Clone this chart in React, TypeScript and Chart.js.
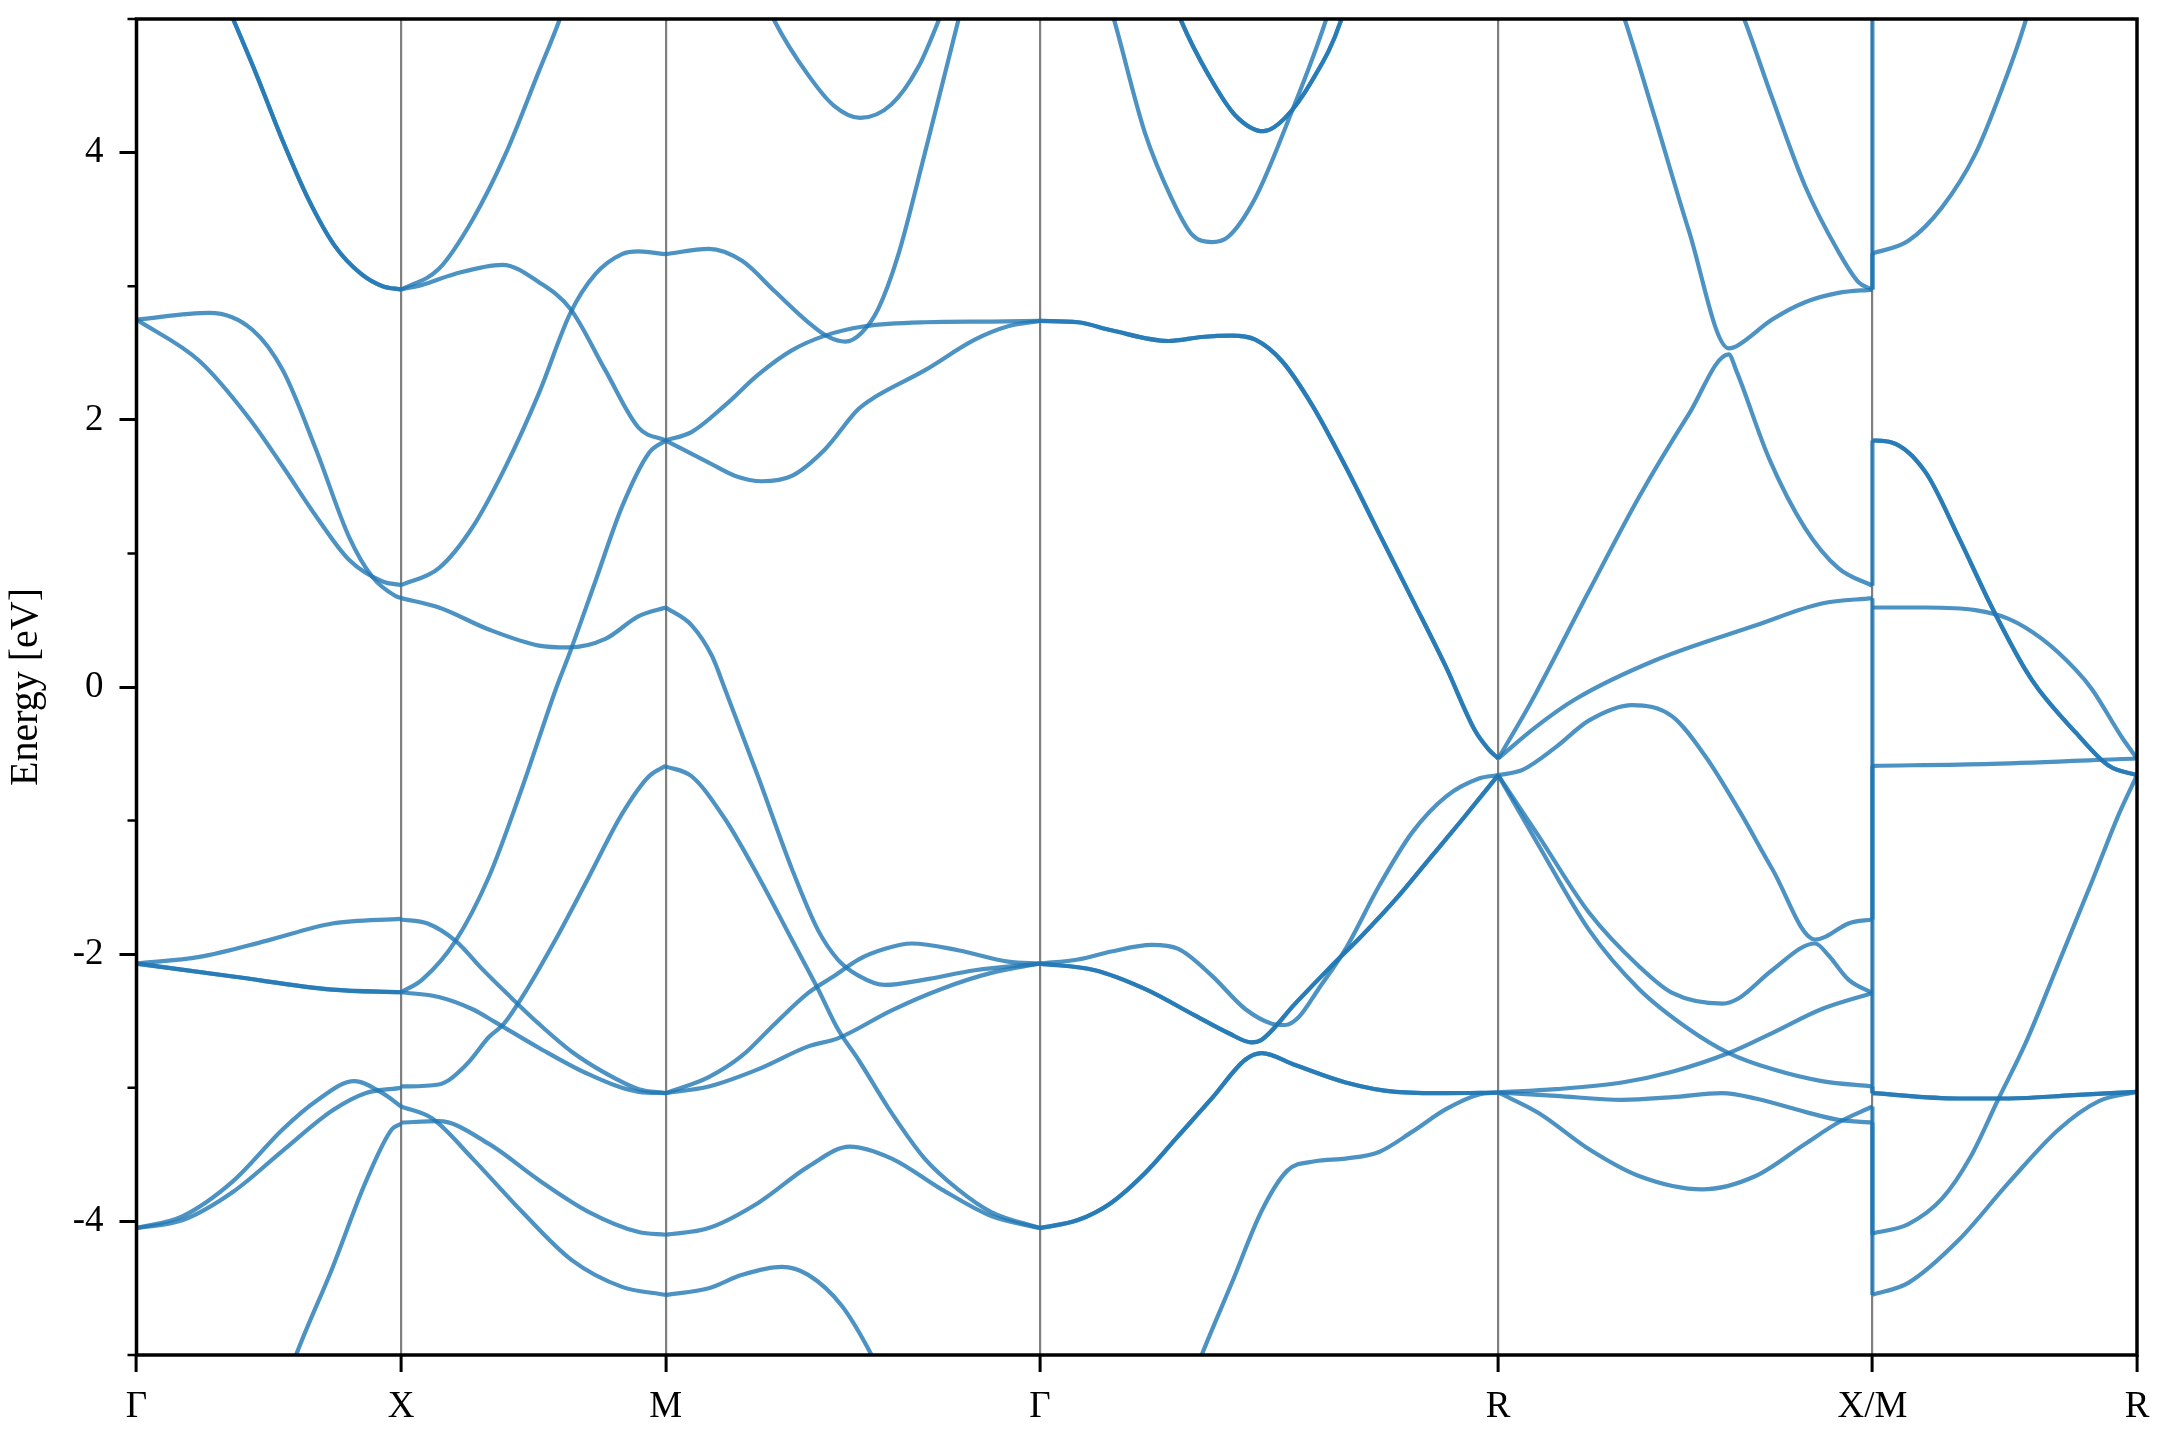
import React, { useEffect, useRef } from 'react';
import { Chart, registerables } from 'chart.js';

Chart.register(...registerables);

// High-symmetry path
const K_LABELS = ['Γ', 'X', 'M', 'Γ', 'R', 'X/M', 'R'];
const K_POS = [0, 0.5, 1.0, 1.7071, 2.5731, 3.2802, 3.7802];

// Energy axis
const Y_MAJOR = [-4, -2, 0, 2, 4];
const Y_MINOR = [-5, -3, -1, 1, 3, 5];
const E_MIN = -5;
const E_MAX = 5;
const Y_TITLE = 'Energy [eV]';

// Bands per segment: each curve is a list of [fraction along segment, energy (eV)]
const SEG_G_X: number[][][] = [
  [[0.30, 5.3], [0.365, 5.0], [0.45, 4.6], [0.55, 4.1], [0.65, 3.65], [0.75, 3.3], [0.85, 3.09], [0.93, 3.0], [1, 2.975]],
  [[0, 2.75], [0.275, 2.8], [0.44, 2.67], [0.553, 2.37], [0.678, 1.78], [0.804, 1.12], [0.893, 0.82], [0.98, 0.68], [1, 0.665]],
  [[0, 2.75], [0.238, 2.44], [0.426, 2.01], [0.553, 1.65], [0.678, 1.28], [0.804, 0.95], [0.93, 0.79], [1, 0.763]],
  [[0, -2.07], [0.238, -2.02], [0.49, -1.9], [0.74, -1.77], [1, -1.735]],
  [[0, -2.07], [0.364, -2.167], [0.74, -2.265], [1, -2.285]],
  [[0, -4.05], [0.175, -3.96], [0.364, -3.7], [0.553, -3.31], [0.678, -3.1], [0.823, -2.95], [0.93, -3.04], [1, -3.14]],
  [[0, -4.05], [0.175, -3.99], [0.364, -3.78], [0.553, -3.47], [0.74, -3.17], [0.865, -3.04], [1, -3.0]],
  [[0.55, -5.3], [0.603, -5.0], [0.74, -4.35], [0.865, -3.71], [0.965, -3.31], [1, -3.27]],
];
const DEG_G_X = [2, 1, 1, 1, 2, 1, 1, 1];

const SEG_X_M: number[][][] = [
  [[0, 2.975], [0.143, 3.13], [0.268, 3.49], [0.395, 3.99], [0.521, 4.61], [0.596, 4.98], [0.65, 5.3]],
  [[0, 2.975], [0.079, 3.01], [0.2, 3.09], [0.383, 3.16], [0.521, 3.03], [0.64, 2.83], [0.772, 2.37], [0.898, 1.94], [1, 1.845]],
  [[0, 0.763], [0.143, 0.89], [0.268, 1.19], [0.395, 1.65], [0.521, 2.2], [0.64, 2.8], [0.734, 3.09], [0.835, 3.24], [0.898, 3.26], [1, 3.24]],
  [[0, 0.665], [0.143, 0.595], [0.332, 0.43], [0.521, 0.31], [0.634, 0.296], [0.772, 0.36], [0.898, 0.53], [1, 0.595]],
  [[0, -2.285], [0.08, -2.19], [0.206, -1.9], [0.332, -1.42], [0.458, -0.75], [0.584, -0.02], [0.64, 0.27], [0.734, 0.79], [0.835, 1.35], [0.936, 1.75], [1, 1.845]],
  [[0, -1.74], [0.1, -1.77], [0.206, -1.9], [0.306, -2.11], [0.408, -2.31], [0.52, -2.52], [0.645, -2.73], [0.772, -2.89], [0.898, -3.01], [1, -3.04]],
  [[0, -2.285], [0.142, -2.32], [0.268, -2.41], [0.357, -2.51], [0.52, -2.7], [0.71, -2.9], [0.898, -3.03], [1, -3.04]],
  [[0, -2.99], [0.142, -2.975], [0.245, -2.83], [0.332, -2.62], [0.389, -2.52], [0.458, -2.32], [0.584, -1.89], [0.71, -1.42], [0.835, -0.95], [0.936, -0.67], [1, -0.59]],
  [[0, -3.14], [0.118, -3.23], [0.27, -3.53], [0.458, -3.93], [0.645, -4.29], [0.835, -4.49], [1, -4.55]],
  [[0, -3.26], [0.142, -3.25], [0.332, -3.42], [0.52, -3.69], [0.71, -3.93], [0.898, -4.08], [1, -4.1]],
];
const DEG_X_M = [1, 1, 1, 1, 1, 1, 1, 1, 1, 1];

const SEG_M_G: number[][][] = [
  [[0.25, 5.25], [0.292, 4.98], [0.381, 4.58], [0.45, 4.35], [0.52, 4.26], [0.603, 4.36], [0.675, 4.64], [0.728, 4.98], [0.77, 5.3]],
  [[0, 3.24], [0.115, 3.28], [0.204, 3.19], [0.292, 2.96], [0.381, 2.73], [0.435, 2.62], [0.48, 2.585], [0.523, 2.65], [0.568, 2.83], [0.621, 3.23], [0.692, 3.99], [0.781, 4.98], [0.81, 5.3]],
  [[0, 1.845], [0.07, 1.91], [0.159, 2.11], [0.248, 2.34], [0.337, 2.52], [0.426, 2.63], [0.532, 2.7], [0.692, 2.73], [0.87, 2.735], [1, 2.74]],
  [[0, 1.845], [0.115, 1.68], [0.186, 1.58], [0.257, 1.54], [0.337, 1.58], [0.426, 1.78], [0.515, 2.08], [0.559, 2.17], [0.692, 2.37], [0.826, 2.6], [0.915, 2.7], [1, 2.74]],
  [[0, 0.595], [0.07, 0.46], [0.124, 0.23], [0.159, -0.02], [0.248, -0.68], [0.337, -1.36], [0.407, -1.82], [0.46, -2.04], [0.515, -2.16], [0.586, -2.23], [0.692, -2.19], [0.826, -2.12], [1, -2.07]],
  [[0, -0.594], [0.07, -0.67], [0.159, -0.99], [0.248, -1.42], [0.337, -1.89], [0.407, -2.26], [0.46, -2.56], [0.515, -2.79], [0.604, -3.19], [0.692, -3.53], [0.781, -3.76], [0.87, -3.93], [1, -4.05]],
  [[0, -3.04], [0.115, -2.92], [0.204, -2.76], [0.292, -2.52], [0.381, -2.29], [0.452, -2.16], [0.515, -2.04], [0.586, -1.96], [0.657, -1.92], [0.781, -1.97], [0.915, -2.055], [1, -2.07]],
  [[0, -3.04], [0.115, -2.99], [0.248, -2.86], [0.381, -2.69], [0.46, -2.63], [0.604, -2.42], [0.737, -2.26], [0.87, -2.14], [1, -2.07]],
  [[0, -4.1], [0.115, -4.05], [0.248, -3.86], [0.381, -3.59], [0.492, -3.44], [0.604, -3.53], [0.737, -3.76], [0.87, -3.96], [1, -4.05]],
  [[0, -4.55], [0.115, -4.5], [0.204, -4.4], [0.31, -4.34], [0.381, -4.4], [0.47, -4.63], [0.55, -5.0], [0.6, -5.3]],
];
const DEG_M_G = [1, 1, 1, 1, 1, 1, 1, 1, 1, 1];

const SEG_G_R: number[][][] = [
  [[0.14, 5.25], [0.163, 4.98], [0.229, 4.15], [0.287, 3.66], [0.331, 3.39], [0.375, 3.33], [0.411, 3.37], [0.47, 3.66], [0.543, 4.25], [0.623, 4.98], [0.65, 5.3]],
  [[0.28, 5.25], [0.309, 4.98], [0.368, 4.58], [0.426, 4.28], [0.488, 4.16], [0.535, 4.26], [0.594, 4.54], [0.656, 4.98], [0.68, 5.3]],
  [[0, 2.74], [0.083, 2.73], [0.156, 2.67], [0.28, 2.59], [0.353, 2.62], [0.418, 2.63], [0.47, 2.6], [0.528, 2.44], [0.594, 2.11], [0.667, 1.65], [0.74, 1.15], [0.812, 0.66], [0.886, 0.15], [0.95, -0.33], [0.98, -0.47], [1, -0.535]],
  [[0, -2.07], [0.083, -2.04], [0.156, -1.98], [0.244, -1.93], [0.302, -1.96], [0.375, -2.16], [0.448, -2.41], [0.506, -2.52], [0.535, -2.53], [0.565, -2.47], [0.608, -2.26], [0.667, -1.96], [0.74, -1.49], [0.812, -1.09], [0.886, -0.82], [0.958, -0.685], [1, -0.66]],
  [[0, -2.07], [0.12, -2.12], [0.229, -2.26], [0.339, -2.46], [0.411, -2.59], [0.462, -2.66], [0.484, -2.64], [0.557, -2.37], [0.63, -2.11], [0.703, -1.86], [0.776, -1.59], [0.849, -1.29], [0.922, -0.99], [1, -0.66]],
  [[0, -4.05], [0.083, -3.99], [0.156, -3.86], [0.229, -3.64], [0.302, -3.36], [0.375, -3.08], [0.448, -2.79], [0.484, -2.74], [0.557, -2.83], [0.667, -2.96], [0.776, -3.03], [0.886, -3.04], [1, -3.035]],
  [[0.32, -5.3], [0.353, -5.0], [0.42, -4.45], [0.484, -3.92], [0.54, -3.62], [0.6, -3.55], [0.667, -3.53], [0.74, -3.48], [0.812, -3.33], [0.886, -3.16], [0.958, -3.05], [1, -3.035]],
];
const DEG_G_R = [1, 2, 2, 1, 2, 2, 1];

const SEG_R_X: number[][][] = [
  [[0.3, 5.3], [0.34, 4.98], [0.42, 4.25], [0.509, 3.42], [0.616, 2.535], [0.636, 2.55], [0.732, 2.75], [0.82, 2.88], [0.909, 2.95], [1, 2.975]],
  [[0.62, 5.25], [0.66, 4.98], [0.732, 4.41], [0.82, 3.75], [0.909, 3.26], [0.963, 3.03], [1, 2.975]],
  [[0, -0.535], [0.056, -0.27], [0.1, -0.05], [0.243, 0.72], [0.376, 1.42], [0.509, 2.04], [0.616, 2.49], [0.636, 2.37], [0.724, 1.71], [0.82, 1.19], [0.909, 0.89], [1, 0.757]],
  [[0, -0.535], [0.1, -0.3], [0.207, -0.09], [0.42, 0.2], [0.687, 0.46], [0.865, 0.625], [1, 0.665]],
  [[0, -0.66], [0.065, -0.62], [0.154, -0.45], [0.243, -0.25], [0.358, -0.135], [0.465, -0.22], [0.554, -0.52], [0.643, -0.92], [0.732, -1.36], [0.847, -1.89], [0.874, -1.87], [0.936, -1.77], [1, -1.74]],
  [[0, -0.66], [0.109, -1.12], [0.243, -1.69], [0.376, -2.09], [0.465, -2.29], [0.6, -2.37], [0.643, -2.33], [0.732, -2.12], [0.847, -1.92], [0.883, -2.01], [0.936, -2.19], [1, -2.29]],
  [[0, -0.66], [0.109, -1.19], [0.243, -1.82], [0.376, -2.26], [0.509, -2.56], [0.616, -2.74], [0.732, -2.86], [0.865, -2.95], [1, -2.99]],
  [[0, -3.035], [0.154, -3.01], [0.331, -2.96], [0.465, -2.88], [0.616, -2.74], [0.732, -2.59], [0.865, -2.41], [1, -2.29]],
  [[0, -3.035], [0.154, -3.06], [0.331, -3.09], [0.465, -3.07], [0.598, -3.04], [0.688, -3.08], [0.82, -3.18], [0.909, -3.24], [1, -3.26]],
  [[0, -3.035], [0.109, -3.19], [0.243, -3.46], [0.376, -3.66], [0.545, -3.76], [0.688, -3.66], [0.82, -3.42], [0.909, -3.26], [1, -3.14]],
];
const DEG_R_X = [1, 1, 1, 1, 1, 1, 1, 1, 1, 1];

const SEG_M_R: number[][][] = [
  [[0, 3.245], [0.136, 3.34], [0.263, 3.59], [0.389, 3.99], [0.49, 4.48], [0.578, 4.98], [0.62, 5.3]],
  [[0, 1.845], [0.073, 1.83], [0.2, 1.61], [0.326, 1.12], [0.452, 0.595], [0.578, 0.13], [0.629, -0.02], [0.768, -0.34], [0.894, -0.59], [1, -0.66]],
  [[0, 0.595], [0.2, 0.595], [0.389, 0.575], [0.515, 0.51], [0.641, 0.36], [0.768, 0.13], [0.831, -0.02], [0.944, -0.38], [1, -0.535]],
  [[0, -0.59], [0.452, -0.575], [1, -0.535]],
  [[0, -3.04], [0.326, -3.08], [0.515, -3.08], [0.76, -3.055], [1, -3.03]],
  [[0, -4.09], [0.136, -4.02], [0.263, -3.83], [0.37, -3.52], [0.477, -3.08], [0.578, -2.67], [0.705, -2.06], [0.831, -1.45], [0.932, -0.95], [1, -0.66]],
  [[0, -4.55], [0.136, -4.46], [0.326, -4.14], [0.515, -3.71], [0.705, -3.31], [0.856, -3.1], [1, -3.03]],
];
const DEG_M_R = [1, 2, 1, 1, 2, 1, 1];

// Band jumps at the X/M discontinuity: [energy at X, energy at M]
const JUMPS_XM: number[][] = [
  [2.975, 5.3], [2.975, 3.245], [0.757, 1.845], [0.665, 0.595], [-1.74, 0.595],
  [-2.29, -0.59], [-2.29, -3.04], [-2.99, -3.04], [-3.14, -4.1], [-3.26, -4.55],
];

const SEGMENTS = [SEG_G_X, SEG_X_M, SEG_M_G, SEG_G_R, SEG_R_X, SEG_M_R];
const DEGENERACY = [DEG_G_X, DEG_X_M, DEG_M_G, DEG_G_R, DEG_R_X, DEG_M_R];

const LINE_COLOR = 'rgba(31,119,180,0.8)';
const LINE_WIDTH = 4.2;
const FONT_FAMILY = "'Liberation Serif', 'Times New Roman', serif";
const FONT_SIZE = 37;
const TITLE_SIZE = 40;

function buildDatasets() {
  const datasets: any[] = [];
  SEGMENTS.forEach((seg, s) => {
    const k0 = K_POS[s];
    const k1 = K_POS[s + 1];
    seg.forEach((curve, c) => {
      const n = DEGENERACY[s][c] || 1;
      for (let r = 0; r < n; r++) {
        datasets.push({
          data: curve.map(([t, e]) => ({ x: k0 + t * (k1 - k0), y: e })),
          showLine: true,
          borderColor: LINE_COLOR,
          borderWidth: LINE_WIDTH,
          pointRadius: 0,
          cubicInterpolationMode: 'monotone',
          fill: false,
        });
      }
    });
  });
  JUMPS_XM.forEach(([a, b]) => {
    datasets.push({
      data: [{ x: K_POS[5], y: a }, { x: K_POS[5], y: b }],
      showLine: true,
      borderColor: LINE_COLOR,
      borderWidth: LINE_WIDTH,
      pointRadius: 0,
      tension: 0,
      fill: false,
    });
  });
  return datasets;
}

const framePlugin = {
  id: 'frame',
  afterDraw(chart: any) {
    const { ctx, chartArea } = chart;
    const { left, right, top, bottom } = chartArea;
    const y = chart.scales.y;
    ctx.save();
    ctx.strokeStyle = '#000';
    ctx.lineWidth = 3.5;
    ctx.strokeRect(left, top, right - left, bottom - top);
    ctx.lineWidth = 2.5;
    ctx.beginPath();
    Y_MINOR.forEach((v) => {
      const py = y.getPixelForValue(v);
      ctx.moveTo(left, py);
      ctx.lineTo(left - 9, py);
    });
    ctx.stroke();
    ctx.restore();
  },
};

export default function App() {
  const ref = useRef<HTMLCanvasElement>(null);
  useEffect(() => {
    const chart = new Chart(ref.current as HTMLCanvasElement, {
      type: 'scatter',
      data: { datasets: buildDatasets() },
      plugins: [framePlugin],
      options: {
        animation: false,
        responsive: false,
        devicePixelRatio: 1,
        layout: { padding: { left: 0, right: 23, top: 19, bottom: 0 } },
        plugins: { legend: { display: false }, tooltip: { enabled: false } },
        elements: { point: { radius: 0 } },
        scales: {
          x: {
            type: 'linear',
            min: K_POS[0],
            max: K_POS[K_POS.length - 1],
            afterBuildTicks: (scale: any) => {
              scale.ticks = K_POS.map((v) => ({ value: v }));
            },
            afterFit: (scale: any) => {
              scale.height = 85;
              scale.paddingLeft = 0;
              scale.paddingRight = 0;
            },
            ticks: {
              autoSkip: false,
              maxRotation: 0,
              minRotation: 0,
              padding: 13,
              color: '#000',
              font: { family: FONT_FAMILY, size: FONT_SIZE },
              callback: (_v: any, i: number) => K_LABELS[i],
            },
            grid: {
              display: true,
              drawOnChartArea: true,
              drawTicks: true,
              tickLength: 17,
              tickWidth: 3,
              tickColor: '#000',
              lineWidth: 2.2,
              color: (ctx: any) =>
                ctx.index === 0 || ctx.index === K_POS.length - 1 ? 'rgba(0,0,0,0)' : 'rgba(0,0,0,0.5)',
            },
            border: { display: false },
          },
          y: {
            type: 'linear',
            min: E_MIN,
            max: E_MAX,
            afterBuildTicks: (scale: any) => {
              scale.ticks = Y_MAJOR.map((v) => ({ value: v }));
            },
            afterFit: (scale: any) => {
              scale.width = 136.5;
              scale.paddingTop = 0;
              scale.paddingBottom = 0;
            },
            ticks: {
              padding: 16,
              color: '#000',
              font: { family: FONT_FAMILY, size: FONT_SIZE },
              callback: (v: any) => String(v),
            },
            grid: {
              display: true,
              drawOnChartArea: false,
              drawTicks: true,
              tickLength: 17,
              tickWidth: 3,
              tickColor: '#000',
            },
            border: { display: false },
            title: {
              display: true,
              text: Y_TITLE,
              color: '#000',
              font: { family: FONT_FAMILY, size: TITLE_SIZE },
              padding: { top: 2, bottom: 0 },
            },
          },
        },
      } as any,
    });
    return () => chart.destroy();
  }, []);
  return (
    <div style={{ position: 'absolute', left: 0, top: 0, width: 2160, height: 1440, background: '#fff' }}>
      <canvas ref={ref} width={2160} height={1440} style={{ width: '2160px', height: '1440px', display: 'block' }} />
    </div>
  );
}
